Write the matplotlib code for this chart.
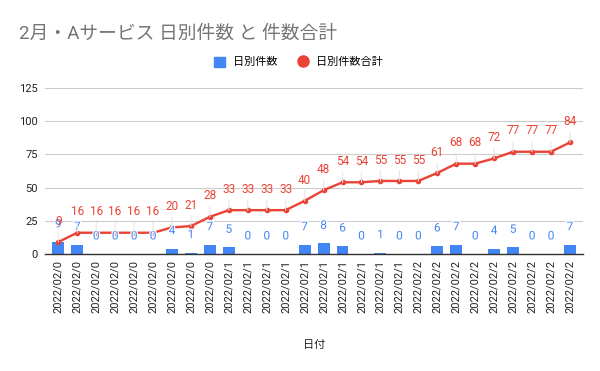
import numpy as np
import matplotlib
matplotlib.use('Agg')
import matplotlib.pyplot as plt
import matplotlib.patheffects as pe
from matplotlib.lines import Line2D
from matplotlib.patches import Patch

plt.rcParams['font.family'] = ['Roboto', 'Noto Sans CJK JP', 'DejaVu Sans']

# daily counts for February 2022 (28 days)
days = ['2022/02/0'] * 9 + ['2022/02/1'] * 10 + ['2022/02/2'] * 9
daily = [9, 7, 0, 0, 0, 0, 4, 1, 7, 5, 0, 0, 0, 7, 8, 6, 0, 1, 0, 0, 6, 7, 0, 4, 5, 0, 0, 7]
total = [9, 16, 16, 16, 16, 16, 20, 21, 28, 33, 33, 33, 33, 40, 48, 54, 54, 55, 55, 55,
         61, 68, 68, 72, 77, 77, 77, 84]
y_ticks = [0, 25, 50, 75, 100, 125]

blue = '#4285F4'
red = '#EA4335'

fig = plt.figure(figsize=(6, 3.71), dpi=100)
ax = fig.add_axes([0.075, 0.3154, 0.897, 0.4474])

x = np.arange(len(daily))
ax.bar(x, daily, width=0.63, color=blue, zorder=2)
ax.plot(x, total, color=red, lw=1.7, marker='o', markersize=3, zorder=3)

halo = [pe.withStroke(linewidth=1.8, foreground='white')]
for xi, v in zip(x, daily):
    ax.annotate(str(v), (xi, v), xytext=(0, 13), textcoords='offset points',
                ha='center', va='center', fontsize=8.5, color=blue, zorder=5,
                path_effects=halo)
for xi, v in zip(x, total):
    ax.annotate(str(v), (xi, v), xytext=(0, 15), textcoords='offset points',
                ha='center', va='center', fontsize=8.5, color=red, zorder=6,
                arrowprops=dict(arrowstyle='-', color='#e6e6e6', lw=0.8,
                                shrinkA=1, shrinkB=0))

ax.set_xlim(-0.7, len(daily) - 0.3)
ax.set_ylim(0, 125)
ax.set_yticks(y_ticks)
ax.set_xticks(x)
ax.set_xticklabels(days, rotation=90, fontsize=8, color='#222222')
ax.tick_params(axis='y', labelsize=8, colors='#222222', length=0, pad=5)
ax.tick_params(axis='x', length=0, pad=4)
ax.grid(axis='y', color='#cccccc', lw=0.8, zorder=0)
ax.set_axisbelow(True)
for s in ['top', 'right', 'left']:
    ax.spines[s].set_visible(False)
ax.spines['bottom'].set_color('#333333')
ax.spines['bottom'].set_linewidth(1)
ax.spines['bottom'].set_zorder(5)

fig.text(0.5233, 0.07, '日付', ha='center', va='center', fontsize=8, color='#222222')
fig.text(0.032, 0.91, '2月・Aサービス 日別件数 と 件数合計', ha='left', va='center',
         fontsize=13.5, color='#757575')

handles = [Patch(color=blue, label='日別件数'),
           Line2D([], [], color=red, marker='o', lw=0, markersize=8, label='日別件数合計')]
fig.legend(handles=handles, loc='center', bbox_to_anchor=(0.497, 0.833), ncol=2,
           frameon=False, fontsize=8, handlelength=1, handleheight=1, handletextpad=0.7,
           columnspacing=1.8)

fig.savefig('out.png', dpi=100)
